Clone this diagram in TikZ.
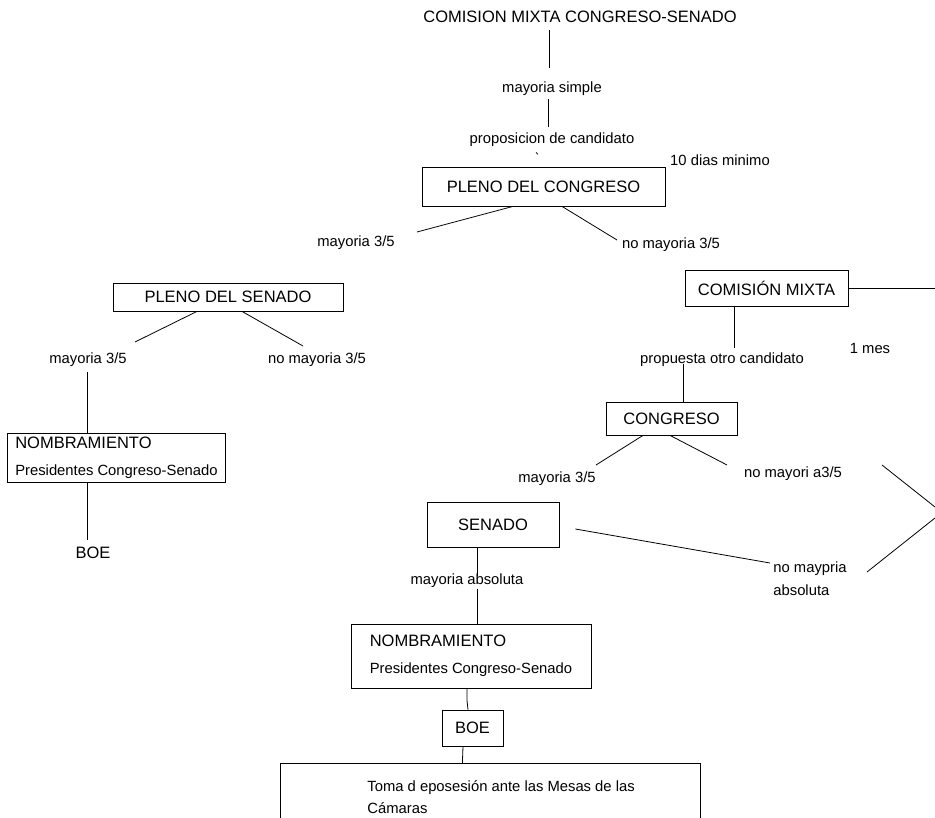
\documentclass[tikz,border=0pt]{standalone}
\usepackage{fontspec}
\setmainfont{Liberation Sans}
\usepackage{tikz}

\begin{document}
\begin{tikzpicture}
[x=1pt, y=-1pt, line width=0.8pt,
caja/.style = {draw, inner sep=0pt, font=\fontsize{16.5}{20}\selectfont},
titular/.style = {inner sep=0pt, text height=12pt, text depth=0pt,
	font=\fontsize{16.5}{20}\selectfont},
etiqueta/.style = {inner sep=0pt, text height=11pt, text depth=3pt,
	font=\fontsize{14.8}{18}\selectfont},
nombra/.style = {draw, align=left, inner ysep=0pt,
	font=\fontsize{14.8}{27}\selectfont},
]
\clip (0,0) rectangle (935,818);

% rama del congreso
\node[titular] (titulo) at (580,17) {COMISION MIXTA CONGRESO-SENADO};
\node[etiqueta] (msimple) at (552,89) {mayoria simple};
\node[etiqueta] (propcand) at (552,140) {proposicion de candidato};
\node[etiqueta] (diez) at (720,162) {10 dias minimo};
\node[caja, minimum width=243pt, minimum height=39pt] (pcong) at (543.5,186.5) {PLENO DEL CONGRESO};
\node[etiqueta] (may1) at (356,243) {mayoria 3/5};
\node[etiqueta] (nomay1) at (671,245) {no mayoria 3/5};

% rama del senado
\node[caja, minimum width=230pt, minimum height=28pt] (psen) at (228,297) {PLENO DEL SENADO};
\node[etiqueta] (may2) at (88,360) {mayoria 3/5};
\node[etiqueta] (nomay2) at (317,360) {no mayoria 3/5};
\node[nombra, inner xsep=8pt, minimum width=217pt, minimum height=49pt] (nomb1) at (116.5,457.5)
	{\fontsize{16.5}{27}\selectfont NOMBRAMIENTO\\
	\fontsize{14.8}{27}\selectfont Presidentes Congreso-Senado};
\node[titular] (boe1) at (93,552) {BOE};

% comision mixta
\node[caja, minimum width=163pt, minimum height=36pt] (comx) at (766.5,288) {COMISIÓN MIXTA};
\coordinate (bordeA) at (935,288);
\node[etiqueta] (propotro) at (722,360) {propuesta otro candidato};
\node[etiqueta] (unmes) at (870,350) {1 mes};
\node[caja, minimum width=131pt, minimum height=33pt] (congr) at (671.5,418.5) {CONGRESO};
\node[etiqueta] (may3) at (557,478) {mayoria 3/5};
\node[etiqueta] (nomay3) at (793,473) {no mayori a3/5};
\coordinate (bordeB) at (935,507);
\coordinate (bordeC) at (935,518);
\node[caja, minimum width=132pt, minimum height=45pt] (senado) at (493,524.5) {SENADO};
\node[anchor=west, align=left, inner sep=0pt, font=\fontsize{14.8}{23}\selectfont] (nomayabs)
	at (773,578.5) {no maypria\\absoluta};
\node[etiqueta] (mabs) at (467,580) {mayoria absoluta};
\node[nombra, inner xsep=16pt, minimum width=240pt, minimum height=64pt] (nomb2) at (471,656)
	{\fontsize{16.5}{27}\selectfont NOMBRAMIENTO\\
	\fontsize{14.8}{27}\selectfont Presidentes Congreso-Senado};
\node[caja, minimum width=61pt, minimum height=36pt] (boe2) at (472.5,728) {BOE};
\node[caja, anchor=north west, minimum width=420pt, minimum height=90pt] (toma) at (280,763) {};
\node[anchor=north west, align=left, inner sep=0pt, font=\fontsize{14.8}{22}\selectfont] (tomatxt)
	at ([xshift=87pt,yshift=-17pt]toma.north west)
	{Toma d eposesión ante las Mesas de las\\Cámaras};

% lineas
\draw ([xshift=-31pt,yshift=-7pt]titulo.south) -- ([xshift=-3pt,yshift=14pt]msimple.north);
\draw ([xshift=-4pt,yshift=-3pt]msimple.south) -- ([xshift=-4pt,yshift=6pt]propcand.north);
\draw[line width=0.6pt] ([xshift=-16pt,yshift=-5pt]propcand.south) -- ++(2,2);
\draw ([xshift=-30.5pt]pcong.south) -- ([xshift=61pt,yshift=11pt]may1.center);
\draw ([xshift=18.5pt]pcong.south) -- ([xshift=-54pt,yshift=5pt]nomay1.center);
\draw ([xshift=-31pt]psen.south) -- ([xshift=47pt,yshift=18pt]may2.center);
\draw ([xshift=14pt]psen.south) -- ([xshift=-14pt,yshift=14pt]nomay2.center);
\draw ([xshift=-1pt,yshift=-12pt]may2.center) -- ([xshift=-29.5pt]nomb1.north);
\draw ([xshift=-29.5pt]nomb1.south) -- ([xshift=-6pt,yshift=12pt]boe1.center);
\draw (comx.east) -- (bordeA);
\draw ([xshift=-32.5pt]comx.south) -- ([xshift=12pt,yshift=12pt]propotro.center);
\draw ([xshift=-39pt,yshift=-4pt]propotro.center) -- ([xshift=11.5pt]congr.north);
\draw ([xshift=-28.5pt]congr.south) -- ([xshift=39pt,yshift=13pt]may3.center);
\draw ([xshift=-1.5pt]congr.south) -- ([xshift=-66pt,yshift=8pt]nomay3.center);
\draw ([xshift=89pt,yshift=8pt]nomay3.center) -- (bordeB);
\draw ([xshift=94pt,yshift=6.5pt]nomayabs.west) -- (bordeC);
\draw ([xshift=16pt,yshift=-4.5pt]senado.east) -- ([xshift=-3pt,yshift=15.5pt]nomayabs.west);
\draw ([xshift=-16pt]senado.south) -- ([xshift=10pt,yshift=4pt]mabs.center);
\draw ([xshift=10pt,yshift=-9pt]mabs.center) -- ([xshift=6pt]nomb2.north);
\draw ([xshift=-4pt]nomb2.south) -- ++(0,12) -- ([xshift=-4.5pt]boe2.north);
\draw ([xshift=-9.5pt]boe2.south) -- ([xshift=-28pt]toma.north);

\end{tikzpicture}
\end{document}
